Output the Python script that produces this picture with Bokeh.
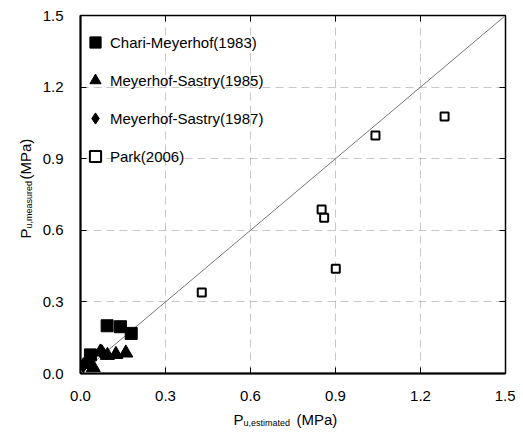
from bokeh.plotting import figure
from bokeh.models import (Range1d, LinearAxis, FixedTicker, Label, Legend, LegendItem,
                          CustomJSTickFormatter)
from bokeh.embed import file_html
from bokeh.resources import INLINE
import math

# ---- data ----
ticks = [0.0, 0.3, 0.6, 0.9, 1.2, 1.5]
diag = [0.0, 1.5]

chari_x = [0.035, 0.094, 0.141, 0.179]
chari_y = [0.078, 0.200, 0.196, 0.168]

ms85_x = [0.045, 0.070, 0.095, 0.125, 0.160]
ms85_y = [0.025, 0.090, 0.076, 0.080, 0.086]

ms87_x = [0.010, 0.030, 0.075]
ms87_y = [0.035, 0.040, 0.090]

park_x = [0.428, 0.851, 0.860, 0.901, 1.041, 1.285]
park_y = [0.339, 0.687, 0.653, 0.439, 0.997, 1.077]

FONT = "Liberation Sans"

p = figure(frame_width=425, frame_height=358, output_backend="svg",
           toolbar_location=None, x_range=Range1d(0, 1.5), y_range=Range1d(0, 1.5),
           min_border_left=80, min_border_right=8, min_border_top=15, min_border_bottom=50)
p.background_fill_color = "white"
p.border_fill_color = "white"
p.outline_line_color = "black"
p.outline_line_width = 1.5

fmt = CustomJSTickFormatter(code="return tick.toFixed(1);")
for ax in (p.xaxis[0], p.yaxis[0]):
    ax.ticker = FixedTicker(ticks=ticks)
    ax.formatter = fmt
    ax.minor_tick_line_color = None
    ax.major_tick_in = 6
    ax.major_tick_out = 0
    ax.axis_line_width = 2
    ax.major_label_text_font = FONT
    ax.major_label_text_font_size = "15px"
    ax.major_label_text_color = "black"
    ax.major_label_standoff = 17

blank = CustomJSTickFormatter(code="return '';")
for side in ("above", "right"):
    ax = LinearAxis(ticker=FixedTicker(ticks=ticks), axis_line_color=None,
                    major_tick_in=6, major_tick_out=0, minor_tick_line_color=None,
                    formatter=blank, major_label_standoff=0)
    p.add_layout(ax, side)

p.xgrid.ticker = FixedTicker(ticks=ticks[1:-1])
p.ygrid.ticker = FixedTicker(ticks=ticks[1:-1])
for g in (p.xgrid[0], p.ygrid[0]):
    g.grid_line_color = "#9a9a9a"
    g.grid_line_dash = "8 5"
    g.grid_line_alpha = 0.55
    g.grid_line_width = 1

p.line(diag, diag, line_color="#777777", line_width=1)

r1 = p.scatter(chari_x, chari_y, marker="square", size=12, fill_color="black", line_color="black")
r2 = p.scatter(ms85_x, ms85_y, marker="triangle", size=14, fill_color="black", line_color="black")
r3 = p.scatter(ms87_x, ms87_y, marker="diamond", size=15, fill_color="black", line_color="black")
r4 = p.scatter(park_x, park_y, marker="square", size=8, fill_color="white", line_color="black", line_width=2)

legend = Legend(items=[
    LegendItem(label="Chari-Meyerhof(1983)", renderers=[r1]),
    LegendItem(label="Meyerhof-Sastry(1985)", renderers=[r2]),
    LegendItem(label="Meyerhof-Sastry(1987)", renderers=[r3]),
    LegendItem(label="Park(2006)", renderers=[r4]),
], location=(1, 203), margin=0, padding=0, spacing=10, glyph_width=28, glyph_height=28,
   label_standoff=1, label_text_font=FONT, label_text_font_size="15px",
   label_text_color="black", border_line_color=None, background_fill_alpha=0)
p.add_layout(legend, "center")

# axis titles with subscript (canvas pixel positions; spread over side panels
# that have room so the frame does not move)
def lab(x, y, t, size, side, angle=0):
    p.add_layout(Label(x=x, y=y, x_units="canvas", y_units="canvas", text=t,
                       text_font=FONT, text_font_size=size, angle=angle,
                       text_align="left", text_baseline="alphabetic", text_color="black"),
                 side)

lab(233, 419, "P", "15px", "below")
lab(243, 422, "u,estimated", "9px", "above")
lab(296, 419, "(MPa)", "15px", "below")

a = math.pi / 2
lab(25, 238, "P", "15px", "left", a)
lab(28.5, 228, "u,measured", "9px", "right", a)
lab(25, 179, "(MPa)", "15px", "left", a)

open("out.html", "w").write(file_html(p, INLINE))
